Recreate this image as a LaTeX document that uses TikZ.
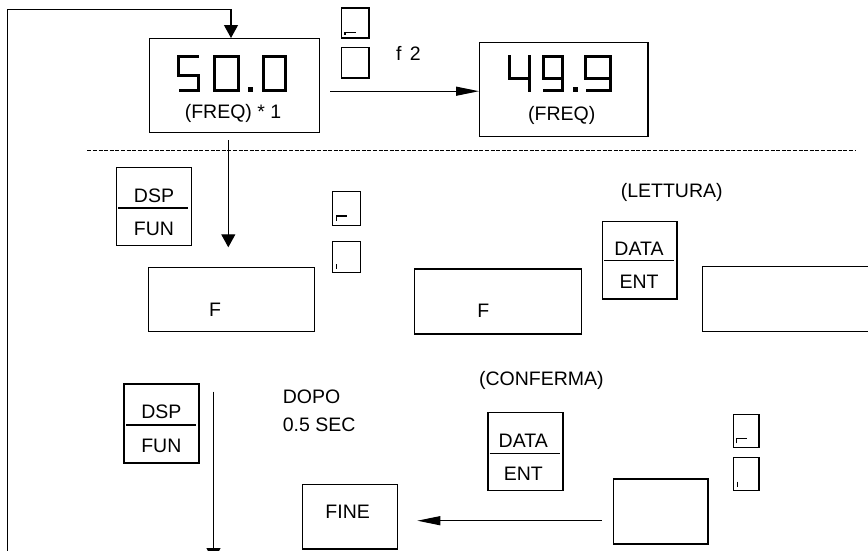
\documentclass[tikz,border=0pt]{standalone}
\usepackage{fontspec}
\setmainfont{Liberation Sans}
\usetikzlibrary{arrows.meta}
\begin{document}
\begin{tikzpicture}[x=1pt,y=-1pt, line width=1.2pt,
  box/.style={draw, rectangle, inner sep=0pt, anchor=north west},
  lbl/.style={font=\fontsize{19.5}{23}\selectfont, inner sep=0pt, anchor=base},
  lblw/.style={lbl, anchor=base west},
  seg/.style={line width=3pt, line cap=butt, line join=miter},
  glyph/.style={line width=1.5pt},
  harr/.style={-{Triangle[length=23pt,width=9pt]}},
  varr/.style={-{Triangle[length=13pt,width=14pt]}},
  dashsep/.style={line width=1.2pt, dash pattern=on 4pt off 1.6pt},
]
\useasboundingbox (0,0) rectangle (868,550);

% boxes
\node[box, minimum width=170, minimum height=94] (b50) at (149,38) {};
\node[box, minimum width=27.6, minimum height=30] (s1) at (340.7,7.3) {};
\node[box, minimum width=27.6, minimum height=30.6] (s2) at (340.7,46.7) {};
\node[box, minimum width=168.3, minimum height=94.3] (b49) at (479,41.7) {};
\node[box, minimum width=75, minimum height=78.3] (dsp1) at (115.7,166.7) {};
\node[box, minimum width=27.5, minimum height=34] (s3) at (332,191) {};
\node[box, minimum width=27.5, minimum height=31] (s4) at (332,240.7) {};
\node[box, minimum width=166, minimum height=64.3] (f1) at (147.7,266.7) {};
\node[box, minimum width=166.7, minimum height=65] (f2) at (414,268.3) {};
\node[box, minimum width=74.6, minimum height=77.6] (de1) at (601.7,220.7) {};
\node[box, minimum width=75, minimum height=79] (dsp2) at (123.3,383.3) {};
\node[box, minimum width=75, minimum height=78.3] (de2) at (487.3,411.7) {};
\node[box, minimum width=25.6, minimum height=32.7] (s5) at (732.7,414) {};
\node[box, minimum width=25.6, minimum height=33.3] (s6) at (732.7,456.7) {};
\node[box, minimum width=94.6, minimum height=65] (e1) at (612.7,478.3) {};
\node[box, minimum width=95, minimum height=64.3] (fine) at (301.7,484) {};

% right box, cut by the page edge
\coordinate (rb1) at (870,266.7);
\coordinate (rb2) at (702.7,266.7);
\coordinate (rb3) at (702.7,331.7);
\coordinate (rb4) at (870,331.7);
\draw (rb1) -- (rb2) -- (rb3) -- (rb4);

% seven segment digits 50.0
\draw[seg] (198.5,56.5) -- (178.5,56.5) -- (178.5,75) -- (198.5,75) -- (198.5,90.8) -- (178.5,90.8);
\draw[seg] (214.5,56.5) rectangle (238.5,90.8);
\fill (248,87.3) rectangle (253,92.3);
\draw[seg] (263.5,56.5) rectangle (285.5,90.8);
% seven segment digits 49.9
\draw[seg] (509.8,55) -- (509.8,78) -- (530.7,78);
\draw[seg] (529.2,55) -- (529.2,91.7);
\draw[seg] (562.5,78) -- (543.2,78) -- (543.2,56.5) -- (562.5,56.5) -- (562.5,90.2) -- (543.2,90.2);
\fill (573.3,86.7) rectangle (578.3,91.7);
\draw[seg] (610.2,78) -- (585.5,78) -- (585.5,56.5) -- (610.2,56.5) -- (610.2,90.2) -- (585.5,90.2);

% glyphs in the small boxes
\draw[glyph] (345,34.7) -- (345,32.3) -- (355.7,32.3);
\draw[glyph] (336.7,221) -- (336.7,216) -- (346.7,216);
\draw[glyph] (336.7,264) -- (336.7,269);
\draw[glyph] (736.7,443.3) -- (736.7,438.3) -- (746.7,438.3);
\draw[glyph] (737.3,481.7) -- (737.3,486.7);

% dividers of the key boxes
\draw (118,208) -- (187.7,208);
\draw (604,260.7) -- (674,260.7);
\draw (126,425) -- (196,425);
\draw (489.5,453.3) -- (560,453.3);

% texts
\node[lbl] (t50) at (233,118.7) {(FREQ) * 1};
\node[lbl] (t49) at (561.7,120) {(FREQ)};
\node[lbl] (tf2) at (408.5,60) {f\hspace{3pt} 2};
\node[lbl] (dspa) at (154,202) {DSP};
\node[lbl] (funa) at (154,235.3) {FUN};
\node[lbl] (fa) at (215,316) {F};
\node[lbl] (fb) at (483.3,317) {F};
\node[lbl] (lett) at (671.7,197) {(LETTURA)};
\node[lbl] (dataa) at (639,255.3) {DATA};
\node[lbl] (enta) at (639,288.7) {ENT};
\node[lbl] (dspb) at (161.3,418.7) {DSP};
\node[lbl] (funb) at (161.3,452) {FUN};
\node[lblw] (dopo) at (282.3,403.7) {DOPO};
\node[lblw] (sec) at (282.3,431.3) {0.5 SEC};
\node[lbl] (conf) at (541.3,385.3) {(CONFERMA)};
\node[lbl] (datab) at (523.3,447) {DATA};
\node[lbl] (entb) at (523.3,480.3) {ENT};
\node[lbl] (tfine) at (347.7,518.7) {FINE};

% connectors
\coordinate (fbbot) at (7.5,552);
\coordinate (fbtop) at (7.5,9.5);
\coordinate (fbcorner) at (231,9.5);
\draw[varr] (fbbot) -- (fbtop) -- (fbcorner) -- (fbcorner |- b50.north);

\coordinate (hs) at (330,91.2);
\draw[harr] (hs) -- (hs -| b49.west);

\coordinate (d1s) at (228.3,140);
\coordinate (d1e) at (228.3,247.3);
\draw[varr] (d1s) -- (d1e);

\coordinate (d2s) at (213.5,391.7);
\coordinate (d2e) at (213.5,561);
\draw[varr] (d2s) -- (d2e);

\coordinate (a3s) at (601.7,520.7);
\coordinate (a3e) at (417.3,520.7);
\draw[harr] (a3s) -- (a3e);

% dashed separator
\coordinate (dl) at (87.3,150.7);
\coordinate (dr) at (856,150.7);
\draw[dashsep] (dl) -- (dr);
\end{tikzpicture}
\end{document}
